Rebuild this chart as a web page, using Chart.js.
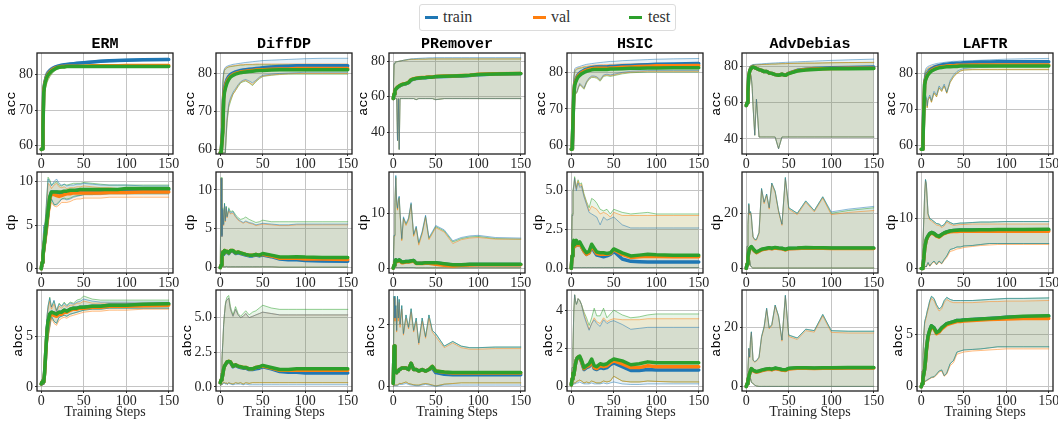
<!DOCTYPE html>
<html><head><meta charset="utf-8">
<script src="https://cdn.jsdelivr.net/npm/chart.js@4.4.1/dist/chart.umd.min.js"></script>
<style>
html,body{margin:0;padding:0;background:#fff;}
#fig{position:relative;width:1058px;height:421px;overflow:hidden;background:#fff;}
#fig canvas{position:absolute;}
#legend{position:absolute;left:419px;top:4px;width:255px;height:25px;border:1px solid #dcdcdc;border-radius:3px;font-family:"Liberation Serif",serif;font-size:16px;color:#333;}
.sw{position:absolute;top:11px;width:13px;height:3px;}
.lt{position:absolute;top:3px;line-height:18px;}
</style></head><body><div id="fig"><div id="legend"></div></div>
<script>
// ---------------- data ----------------
const SERIES = ['train', 'val', 'test'];
const METHODS = ['ERM', 'DiffDP', 'PRemover', 'HSIC', 'AdvDebias', 'LAFTR'];
const METRICS = ['acc', 'dp', 'abcc'];
const X_LABEL = 'Training Steps';
const X_TICKS = [0, 50, 100, 150];
const ACC_TICKS = [['60','70','80'], ['60','70','80'], ['40','60','80'], ['60','70','80'], ['40','60','80'], ['60','70','80']];
const DP_TICKS = [['0','5','10'], ['0','5','10'], ['0','10'], ['0.0','2.5','5.0'], ['0','20'], ['0','10']];
const ABCC_TICKS = [['0','5'], ['0.0','2.5','5.0'], ['0','2'], ['0','2','4'], ['0','20'], ['0','5']];

const STEPS = [0,1,2,3,4,5,6,7,8,10,12,15,18,21,24,27,30,34,38,42,46,50,60,70,80,90,100,120,150];

// ERM acc
const ERM_ACC_TR    = [59,59.2,66,76,77.5,78.5,79.3,79.9,80.3, 80.9,81.4,81.9,82.2,82.4,82.6,82.7,82.8,82.9,83.0, 83.1,83.2,83.3,83.5,83.7,83.8,83.9,84.0,84.1,84.2];
const ERM_ACC_TR_LO = [58.8,59,64,74.5,76,77.3,78.2,78.9,79.4, 80.2,80.8,81.4,81.8,82.1,82.3,82.4,82.5,82.6,82.7, 82.8,82.9,83.0,83.2,83.4,83.5,83.6,83.7,83.8,83.9];
const ERM_ACC_TR_HI = [59.2,59.6,68,77.5,79,80,80.6,81,81.3, 81.7,82,82.3,82.6,82.8,82.9,83.0,83.1,83.2,83.3, 83.4,83.5,83.6,83.8,84.0,84.1,84.2,84.3,84.4,84.5];
const ERM_ACC_VA    = [59,59.2,65.5,75.5,77.2,78.2,79,79.6,80, 80.6,81.1,81.6,81.9,82.1,82.2,82.2,82.3,82.3,82.3, 82.3,82.3,82.3,82.4,82.4,82.4,82.4,82.5,82.5,82.5];
const ERM_ACC_VA_LO = [58.8,59,63.5,74,75.5,76.5,77.5,78.3,78.8, 79.6,80.3,81,81.5,81.8,81.9,82,82.1,82.1,82.1, 82.1,82.1,82.1,82.2,82.2,82.2,82.2,82.3,82.3,82.3];
const ERM_ACC_VA_HI = [59.2,59.6,67.5,77,78.8,79.8,80.4,80.8,81.1, 81.5,81.8,82.1,82.3,82.4,82.5,82.5,82.5,82.5,82.5, 82.5,82.5,82.6,82.6,82.6,82.6,82.6,82.7,82.7,82.7];
const ERM_ACC_TE    = [59,59.1,65,75,77,78,78.8,79.4,79.8, 80.4,80.9,81.4,81.8,82,82.1,82.1,82.2,82.2,82.2, 82.2,82.2,82.2,82.2,82.2,82.2,82.2,82.2,82.2,82.2];
const ERM_ACC_TE_LO = [58.8,59,63,73.5,75,76,77,77.8,78.4, 79.3,80,80.8,81.3,81.6,81.8,81.9,82,82,82, 82,82,82,82,82,82,82,82,82,82];
const ERM_ACC_TE_HI = [59.2,59.5,67,76.5,78.6,79.6,80.2,80.6,80.9, 81.3,81.6,81.9,82.1,82.3,82.4,82.4,82.4,82.4,82.4, 82.4,82.4,82.4,82.4,82.4,82.4,82.4,82.4,82.4,82.4];

// DiffDP acc
const DIFF_ACC_TR    = [59,59,59,66,74,76,77,77.8,78.4, 79.2,79.7,80.1,80.4,80.6,80.8,80.9,81,81.1,81.2, 81.3,81.4,81.5,81.7,81.8,81.9,82,82,82,82];
const DIFF_ACC_VA    = [59,59,59,65,73.5,75.5,76.5,77.3,77.9, 78.7,79.2,79.7,80,80.2,80.4,80.5,80.6,80.7,80.8, 80.9,81,81,81.1,81.2,81.2,81.3,81.3,81.3,81.3];
const DIFF_ACC_TE    = [59,59,59,64.5,73,75,76,76.8,77.5, 78.4,79,79.5,79.8,80,80.2,80.3,80.4,80.5,80.6, 80.7,80.8,80.8,80.9,81,81,81,81,81,81];
const DIFF_ACC_TR_HI = [59,59.5,70,78,80.5,81.3,81.6,81.8,81.9, 82.1,82.2,82.4,82.5,82.6,82.7,82.8,82.9,83,83.1, 83.2,83.3,83.4,83.5,83.6,83.7,83.8,83.9,84,84];
const DIFF_ACC_VA_HI = [59,59.5,69,77,80,81,81.3,81.5,81.6, 81.8,81.9,82,82.1,82.2,82.3,82.3,82.4,82.4,82.4, 82.5,82.5,82.5,82.5,82.5,82.5,82.5,82.5,82.5,82.5];
const DIFF_ACC_TE_HI = [59,59.5,68,76.5,79.8,80.8,81.1,81.3,81.5, 81.7,81.8,81.9,82,82.1,82.2,82.2,82.3,82.3,82.3, 82.3,82.3,82.3,82.3,82.3,82.3,82.3,82.3,82.3,82.3];
const DIFF_ACC_TR_LO = [59,59,59,59,59,59,59,64,68, 72,73.5,75,76,77,77.8,78.2,78.4,78,77.5, 78.2,79,79.5,79.8,80,80.1,80.2,80.3,80.3,80.3];
const DIFF_ACC_VA_LO = [59,59,59,59,59,59,59,63.5,67.5, 71.5,73,74.5,75.5,76.8,77.6,78,78.2,77.6,77, 78,78.8,79.3,79.6,79.8,79.9,80,80,80,80];
const DIFF_ACC_TE_LO = [59,59,59,59,59,59,59,63,67, 71,72.5,74.5,75.5,76.5,77.5,77.8,78,77.5,76.8, 77.8,78.6,79.2,79.5,79.7,79.8,79.8,79.8,79.8,79.8];

// PRemover acc
const PREM_ACC_TR    = [59,61.4,63.4,64.2,64.7,65.2,65.6,65.9,66.2, 66.7,67,67.3,67.9,69.4,69.9,70.2,70.4,70.6,70.7, 70.9,70.9,71.2,71.4,71.5,71.7,71.9,72.4,72.7,72.9];
const PREM_ACC_VA    = [59,61.6,63.6,64.4,64.9,65.4,65.8,66.1,66.4, 66.9,67.2,67.5,68.1,69.6,70.1,70.4,70.6,70.8,70.9, 71.1,71.1,71.4,71.6,71.7,71.9,72.1,72.6,72.9,73.1];
const PREM_ACC_TE    = [59,61.5,63.5,64.3,64.8,65.3,65.7,66,66.3, 66.8,67.1,67.4,68,69.5,70,70.3,70.5,70.7,70.8, 71,71,71.3,71.5,71.6,71.8,72,72.5,72.8,73];
const PREM_ACC_HI    = [59,78.5,79.2,79.5,79.6,79.7,79.8,79.9,80, 80.2,80.4,80.6,80.8,81,81,81,81.1,81.1,81.1, 81.2,81.2,81.2,81.2,81.2,81.2,81.2,81.2,81.2,81.2];
const PREM_ACC_TR_HI = [59,78.5,79.2,79.5,79.6,79.7,79.8,79.9,80, 80.2,80.4,80.7,81,81.2,81.3,81.4,81.5,81.6,81.7, 81.8,81.8,81.9,81.9,81.9,81.9,81.9,81.9,81.9,81.9];
const PREM_ACC_LO    = [59,59,59,59,59,35.5,59,30.5,59, 59,59,59,59,59,59,58.4,59,59,59, 59,59,58.4,59,59,59,59,59,59,59];

// HSIC acc
const HSIC_ACC_TR    = [59,59,59,74,77,77.8,78.4,78.9,79.3, 79.8,80.2,80.6,80.9,81.1,81.3,81.4,81.5,81.5,81.5, 81.5,81.6,81.6,81.8,81.9,82,82.1,82.2,82.3,82.4];
const HSIC_ACC_VA    = [59,59,59,74,76.8,77.5,78.1,78.6,79, 79.5,79.9,80.3,80.6,80.8,81,81.1,81.1,81.1,81.1, 81.1,81.2,81.2,81.4,81.5,81.6,81.7,81.8,81.8,81.9];
const HSIC_ACC_TE    = [59,59,59,73.5,76.5,77.2,77.8,78.3,78.7, 79.2,79.6,80,80.3,80.5,80.7,80.8,80.8,80.8,80.8, 80.8,80.9,80.9,81,81.1,81.1,81.2,81.2,81.3,81.3];
const HSIC_ACC_TR_HI = [59,59,62,79,81,81.2,81.3,81.4,81.5, 81.6,81.8,82,82.2,82.3,82.4,82.5,82.6,82.7,82.8, 82.9,83,83,83.2,83.3,83.4,83.5,83.6,83.7,83.8];
const HSIC_ACC_VA_HI = [59,59,61.5,78.5,80.5,80.8,81,81.1,81.2, 81.3,81.4,81.6,81.7,81.8,81.9,82,82,82.1,82.1, 82.1,82.2,82.2,82.3,82.3,82.4,82.4,82.4,82.4,82.4];
const HSIC_ACC_TE_HI = [59,59,61,78,80,80.5,80.7,80.9,81, 81.1,81.2,81.4,81.5,81.6,81.7,81.7,81.8,81.8,81.8, 81.8,81.9,81.9,82,82,82,82,82,82,82];
const HSIC_ACC_TR_LO = [59,59,59,59,74,74.3,74.5,75,75.8, 77,76.5,75.8,77.5,78.5,79,79,78.8,78,79.3, 79.5,79.3,79.5,80,80.3,80.4,80.5,80.5,80.5,80.5];
const HSIC_ACC_VA_LO = [59,59,59,59,74,74.2,74.4,74.8,75.6, 76.8,76.3,75.6,77.3,78.3,78.8,78.8,78.6,77.8,79.1, 79.3,79.1,79.3,79.8,80.1,80.2,80.3,80.3,80.3,80.3];
const HSIC_ACC_TE_LO = [59,59,59,59,73.8,74,74.2,74.6,75.4, 76.6,76.1,75.4,77.1,78.1,78.6,78.6,78.4,77.6,78.9, 79.1,78.9,79.1,79.6,79.9,80,80.1,80.1,80.1,80.1];

// AdvDebias acc
const ADV_ACC_TR    = [58.5,60,66,75,77.5,78.5,79.2,79.6,79.8, 79.5,79,78.4,78,77.3,77.4,76.5,76.3,75.6,75.3, 75.8,75.2,76.4,78,78.6,79,79.2,79.4,79.6,79.8];
const ADV_ACC_VA    = [58.5,60,66,75,77.5,78.5,79.2,79.6,79.8, 79.5,79,78.4,78,77.3,77.4,76.5,76.3,75.6,75.3, 75.8,75.2,76.3,77.8,78.4,78.7,78.9,79,79.1,79.2];
const ADV_ACC_TE    = [58.5,60,66,75,77.5,78.5,79.2,79.6,79.8, 79.5,79,78.4,78,77.3,77.4,76.5,76.3,75.6,75.3, 75.8,75.2,76.2,77.6,78.2,78.5,78.7,78.8,78.9,79];
const ADV_ACC_TR_HI = [59,62,72,78,80,80.5,80.8,81,81.2, 81.3,81.4,81.5,81.6,81.7,81.8,81.9,82,82.1,82.2, 82.3,82.4,82.5,82.7,82.9,83.1,83.3,83.5,83.8,84.2];
const ADV_ACC_HI    = [59,62,72,78,80,80.4,80.6,80.8,81, 81,81,81.1,81.2,81.3,81.3,81.4,81.5,81.5,81.6, 81.7,81.7,81.8,81.9,82,82,82.1,82.2,82.3,82.4];
const ADV_ACC_LO    = [58,58.5,62,68,73,76,74,68,58, 42,62,41,41,41,41,41,41,41,34.5, 41,41,41,41,41,41,41,41,41,41];

// LAFTR acc
const LAF_ACC_TR    = [59,59,62,70,77.5,78.5,79.2,79.8,80.2, 80.8,81.2,81.6,81.9,82.1,82.3,82.4,82.5,82.6,82.7, 82.8,82.8,82.9,83,83.1,83.1,83.2,83.2,83.2,83.2];
const LAF_ACC_VA    = [59,59,61.5,69.5,77,78.2,78.9,79.4,79.8, 80.4,80.8,81.2,81.5,81.7,81.8,81.9,82,82.1,82.1, 82.2,82.2,82.2,82.3,82.3,82.3,82.3,82.3,82.3,82.3];
const LAF_ACC_TE    = [59,59,61,69,76.8,78,78.7,79.2,79.6, 80.2,80.6,81,81.3,81.5,81.6,81.7,81.8,81.8,81.9, 81.9,82,82,82,82,82,82,82,82,82];
const LAF_ACC_TR_HI = [59,59.5,68,77,80,81,81.5,81.7,81.9, 82.1,82.3,82.5,82.7,82.8,82.9,83,83.1,83.2,83.3, 83.3,83.4,83.4,83.5,83.6,83.7,83.8,83.9,84,84.1];
const LAF_ACC_VA_HI = [59,59.5,67,76,79.5,80.6,81,81.3,81.5, 81.7,81.9,82.1,82.3,82.4,82.5,82.6,82.6,82.7,82.7, 82.8,82.8,82.8,82.9,82.9,82.9,83,83,83,83];
const LAF_ACC_TE_HI = [59,59.5,66.5,75.5,79.2,80.3,80.7,81,81.2, 81.4,81.6,81.8,82,82.1,82.2,82.3,82.3,82.4,82.4, 82.4,82.5,82.5,82.5,82.5,82.5,82.5,82.5,82.5,82.5];
const LAF_ACC_TR_LO = [59,59,59,59,71,74,73.5,71,73, 74,72.5,75,74,76.5,75.5,77,74.8,78,79.5, 80.5,81,81.3,81.5,81.6,81.7,81.8,81.8,81.8,81.8];
const LAF_ACC_LO    = [59,59,59,59,70.5,73.5,73,70.5,72.5, 73.5,72,74.5,73.5,76,75,76.5,74.5,77.5,79, 80,80.6,80.9,81,81,81,81,81,81,81];

// ERM dp
const ERM_DP_TR    = [0,0.7,1.5,2.4,3.2,4.1,5,5.8,6.6, 8.2,8.8,8.8,8.8,8.7,8.7,8.8,8.8,8.9,8.9, 9,9,9,9,9,9,9,9.1,9.1,9.1];
const ERM_DP_VA    = [0,0.7,1.4,2.3,3.1,3.9,4.8,5.6,6.4, 8,8.6,8.5,8.4,8.3,8.4,8.5,8.6,8.6,8.7, 8.7,8.7,8.7,8.7,8.7,8.75,8.75,8.75,8.8,8.8];
const ERM_DP_TE    = [0,0.7,1.5,2.4,3.2,4.1,5,5.8,6.6, 8.2,8.8,8.8,8.8,8.8,8.8,8.9,8.9,9,9, 9,9.1,9.1,9.1,9.1,9.1,9.1,9.2,9.2,9.2];
const ERM_DP_TR_HI = [0,1.5,3,5,4.6,5.8,7.2,8.8,10.3, 10,9.5,10,10.3,9.8,9.6,9.7,9.5,9.6,9.6, 9.7,9.7,9.8,9.7,9.6,9.6,9.6,9.6,9.5,9.5];
const ERM_DP_VA_HI = [0,1.3,2.6,4,4.2,5.5,6.8,8.3,9.8, 9.6,9.2,9.6,9.8,9.4,9.3,9.4,9.2,9.3,9.3, 9.4,9.4,9.5,9.4,9.3,9.3,9.2,9.2,9.2,9.2];
const ERM_DP_TE_HI = [0,1.5,3,4.8,4.6,6,7.5,9,10.5, 10.2,9.6,9.8,10,9.6,9.5,9.7,9.6,9.7,9.8, 9.8,9.8,9.9,9.8,9.7,9.6,9.6,9.6,9.6,9.6];
const ERM_DP_TR_LO = [0,0.2,0.8,1.4,2,2.8,3.5,4.3,5, 7,8,7.4,7.3,7.6,8,8,7.9,8,8.2, 8.3,8.4,8.5,8.5,8.5,8.6,8.6,8.6,8.6,8.6];
const ERM_DP_VA_LO = [0,0.2,0.7,1.2,1.8,2.5,3.2,4,4.7, 6.6,7.6,7.2,7.1,7.3,7.6,7.6,7.6,7.7,7.9, 8,8,8.1,8.1,8.1,8.2,8.2,8.2,8.2,8.2];
const ERM_DP_TE_LO = [0,0.2,0.8,1.4,2,2.8,3.5,4.3,5, 7,8,7.3,7.4,7.7,8,8.1,8,8.1,8.3, 8.4,8.4,8.5,8.5,8.6,8.6,8.6,8.6,8.6,8.6];

// DiffDP dp
const DIFF_DP_TR    = [0,0.3,1.4,1.9,1.7,2.1,1.9,2,2, 1.8,2.1,2.1,1.8,1.9,1.8,1.7,1.6,1.5,1.5, 1.6,1.5,1.6,1.4,1.1,1,1,0.9,0.85,0.8];
const DIFF_DP_VA    = [0,0.3,1.5,2,1.8,2.2,2,2.1,2.1, 1.9,2.2,2.2,1.9,2,1.9,1.8,1.7,1.6,1.6, 1.7,1.6,1.7,1.5,1.2,1.2,1.2,1.1,1.1,1.05];
const DIFF_DP_TE    = [0,0.3,1.5,2,1.8,2.2,2,2.1,2.1, 1.9,2.2,2.2,1.9,2,1.9,1.8,1.7,1.6,1.6, 1.7,1.6,1.8,1.6,1.35,1.35,1.4,1.35,1.3,1.3];
const DIFF_DP_TR_HI = [0,11.5,4,7.5,5.5,8.2,6,7.8,6.5, 7.5,7,7.2,6.6,6.2,6,5.8,6,5.8,5.7, 5.5,5.6,5.7,5.6,5.5,5.5,5.6,5.6,5.6,5.6];
const DIFF_DP_VA_HI = [0,11.5,4,7.4,5.4,8,5.9,7.6,6.4, 7.3,6.9,7,6.5,6.1,5.9,5.7,5.9,5.7,5.6, 5.4,5.5,5.6,5.5,5.4,5.4,5.5,5.5,5.5,5.5];
const DIFF_DP_TE_HI = [0,11.6,4.2,7.7,5.6,8.3,6.2,7.9,6.6, 7.7,7.2,7.3,6.8,6.4,6.2,6.3,6.5,6.2,6, 5.8,5.9,6.1,5.9,5.9,5.9,5.9,5.9,5.9,5.9];
const DIFF_DP_LO    = [0,0.1,0.1,0.15,0.1,0.1,0.1,0.15,0.1, 0.1,0.1,0.1,0.1,0.1,0.1,0.1,0.1,0.1,0.1, 0.1,0.1,0.1,0.1,0.05,0.05,0.05,0.05,0.05,0.05];

// PRemover dp
const PREM_DP_TR    = [0,0.5,1.2,1.5,1.4,1.3,1.4,1.5,1.4, 1.1,1.1,1.2,1.2,1.3,1.4,0.9,0.9,0.9,1, 1,1,1,0.75,0.55,0.55,0.65,0.65,0.65,0.65];
const PREM_DP_VA    = [0,0.5,1.1,1.4,1.3,1.2,1.3,1.4,1.3, 1,1,1.1,1.1,1.2,1.3,0.85,0.85,0.85,0.9, 0.9,0.8,0.7,0.5,0.4,0.5,0.55,0.6,0.6,0.6];
const PREM_DP_TE    = [0,0.5,1.2,1.5,1.4,1.3,1.4,1.5,1.4, 1.1,1.1,1.2,1.2,1.3,1.4,0.9,0.9,0.9,1, 1,1,1,0.8,0.6,0.6,0.7,0.7,0.7,0.7];
const PREM_DP_HI    = [0,6,12,16.8,12,10.8,12.5,13,10, 5.2,9.2,8,9,11.8,6,7.5,4.5,6.5,9.5, 5.4,6.5,7.6,6.8,4.8,5.4,5.7,5.8,5.4,5.3];
const PREM_DP_TR_HI = [0,6,12,17,12.2,11,12.7,13.2,10.2, 5.4,9.4,8.2,9.2,12,6.2,7.7,4.7,6.7,9.7, 5.6,6.7,7.8,7,5,5.6,5.9,6,5.6,5.5];
const PREM_DP_VA_HI = [0,5.8,11.8,16.5,11.8,10.6,12.3,12.8,9.8, 5,9,7.8,8.8,11.6,5.8,7.3,4.2,6.2,9.3, 5.2,6.3,7.4,6.6,4.5,5.2,5.5,5.6,5.3,5.3];
const PREM_DP_LO    = [0,0.05,0.1,0.1,0.1,0.1,0.1,0.1,0.1, 0.1,0.1,0.1,0.1,0.1,0.1,0.05,0.05,0.05,0.05, 0.05,0.05,0.05,0.05,0.05,0.05,0.05,0.05,0.05,0.05];

// HSIC dp
const HSIC_DP_TR    = [0,0.8,1.4,1.7,1.4,1.5,1.7,1.6,1.5, 1.6,1.4,1.1,0.9,1,1.4,1.1,0.85,0.8,0.75, 0.8,0.9,1.1,0.6,0.45,0.42,0.4,0.4,0.4,0.4];
const HSIC_DP_VA    = [0,0.8,1.4,1.7,1.4,1.5,1.7,1.6,1.5, 1.6,1.4,1.1,0.9,1,1.45,1.2,0.95,0.9,0.9, 0.9,0.95,1.2,0.9,0.7,0.75,0.78,0.76,0.75,0.75];
const HSIC_DP_TE    = [0,0.8,1.5,1.8,1.5,1.6,1.8,1.7,1.6, 1.7,1.5,1.2,1,1.1,1.55,1.3,1.05,1,1, 0.95,1,1.25,1,0.8,0.85,0.9,0.87,0.85,0.85];
const HSIC_DP_TR_HI = [0,3.4,4.9,5.3,5.8,5.3,5,5.3,5.5, 5.2,5.3,4.6,4.1,3.6,3.5,3.4,3.3,2.8,3.3, 3.1,3.2,3.3,2.8,2.6,2.6,2.6,2.6,2.6,2.6];
const HSIC_DP_VA_HI = [0,3.4,4.9,5.3,5.8,5.4,5.1,5.4,5.6, 5.3,5.4,4.7,4.2,3.7,4,3.9,3.8,3.5,3.6, 3.5,3.3,3.6,3.4,3.4,3.4,3.4,3.4,3.4,3.4];
const HSIC_DP_TE_HI = [0,3.5,5,5.4,5.9,5.5,5.2,5.5,5.7, 5.4,5.5,4.8,4.3,3.9,4.5,4.4,4.2,3.8,3.7, 3.8,3.5,3.8,3.6,3.5,3.55,3.6,3.5,3.5,3.5];
const HSIC_DP_LO    = [0,0.05,0.05,0.05,0.05,0.05,0.05,0.05,0.05, 0.05,0.05,0.05,0.05,0.05,0.05,0.05,0.05,0.05,0.05, 0.05,0.05,0.05,0.05,0.05,0.05,0.05,0.05,0.05,0.05];

// AdvDebias dp
const ADV_DP_TR    = [0,1.5,4,6,7.2,7.5,7.8,7.4,7, 6.3,5.8,6.3,6.8,7,7.2,7.4,7.2,7.5,7.3, 7.2,6.8,7.2,7.3,7.5,7.4,7.4,7.3,7.3,7.3];
const ADV_DP_VA    = [0,1.5,3.9,5.9,7.1,7.4,7.7,7.3,6.9, 6.2,5.7,6.2,6.7,6.9,7.1,7.3,7.1,7.4,7.2, 7.1,6.7,7.1,7.2,7.4,7.3,7.3,7.2,7.2,7.2];
const ADV_DP_TE    = [0,1.5,4,6,7.3,7.6,7.9,7.5,7.1, 6.4,5.9,6.4,6.9,7.1,7.3,7.5,7.3,7.6,7.4, 7.3,6.9,7.3,7.4,7.6,7.5,7.5,7.4,7.4,7.4];
const ADV_DP_HI    = [0,8,16,23.5,20,20.6,19,15,11.5, 10.5,10.5,13,29,24,27,22,31,28,21, 16,33,22,20,24.5,21,26,20,21,22];
const ADV_DP_TR_HI = [0,8,16,23.5,20,20.6,19,15,11.5, 10.5,10.5,13,29,24,27,22,31,28,21, 16,33,22,20,24.5,21,26,20.5,21.5,22.5];
const ADV_DP_VA_HI = [0,8,16,23,19.5,20.2,18.6,14.6,11.2, 10.2,10.2,12.6,28.5,23.5,26.5,21.5,30.5,27.5,20.5, 15.6,32.5,21.5,19.5,24,20.5,25.5,19.5,20.3,21];
const ADV_DP_LO    = [0,0.5,1,2.4,3,1,0.5,0.2,0.1, 0.1,0.1,0.1,0.1,0.1,0.1,0.1,0.1,0.1,0.1, 0.1,0.1,0.1,0.1,0.1,0.1,0.1,0.1,0.1,0.1];

// LAFTR dp
const LAF_DP_TR    = [0,0,0.5,2,4,5,5.8,6.2,6.5, 7,7.2,7,6.6,6.4,6.8,7.1,7.3,7.5,7.6, 7.65,7.7,7.7,7.7,7.7,7.7,7.7,7.7,7.7,7.7];
const LAF_DP_VA    = [0,0,0.5,1.9,3.9,4.9,5.7,6.1,6.4, 6.9,7.1,6.9,6.5,6.3,6.7,7,7.2,7.35,7.4, 7.4,7.45,7.45,7.45,7.45,7.45,7.45,7.45,7.45,7.45];
const LAF_DP_TE    = [0,0,0.5,2,4,5,5.8,6.2,6.5, 7,7.2,7,6.6,6.4,6.8,7.1,7.3,7.5,7.6, 7.65,7.7,7.7,7.7,7.75,7.75,7.8,7.8,7.8,7.85];
const LAF_DP_HI    = [0,1,5,10,15,17.8,17,14,11, 10,9.8,9.4,9,8.9,8.5,8.8,9.6,9.2,8.9, 9,9.1,9.1,9.2,9.3,9.3,9.35,9.4,9.4,9.4];
const LAF_DP_VA_HI = [0,1,5,9.8,14.8,17.5,16.7,13.7,10.7, 9.7,9.5,9.1,8.7,8.6,8.2,8.5,9.3,8.9,8.6, 8.7,8.8,8.8,8.9,8.9,8.9,8.9,8.9,8.9,8.9];
const LAF_DP_LO    = [0,0,0,0,0.2,0.5,0.3,0.8,1.2, 0.5,1,1.5,0.8,1.5,1,1.8,2.5,3.8,4, 4.3,4.3,4.5,4.6,4.8,5,5,5,5,5];
const LAF_DP_VA_LO = [0,0,0,0,0.2,0.4,0.3,0.7,1, 0.4,0.9,1.3,0.7,1.3,0.9,1.6,2.2,3.4,3.6, 3.9,4,4.2,4.4,4.6,4.7,4.8,4.8,4.8,4.8];

// ERM abcc
const ERM_AB_TR    = [0.3,0.5,0.6,0.5,1.5,3,4.5,5.8,6.5, 7.2,7.4,7.3,7.2,7.4,7.4,7.6,7.5,7.7,7.8, 7.8,7.9,7.9,8,8,8.1,8.1,8.1,8.15,8.2];
const ERM_AB_VA    = [0.3,0.5,0.6,0.5,1.4,2.9,4.4,5.6,6.3, 7,7.2,7.1,7,7.2,7.2,7.4,7.4,7.6,7.7, 7.7,7.8,7.8,7.9,7.9,8,8,8,8.05,8.1];
const ERM_AB_TE    = [0.3,0.5,0.6,0.5,1.5,3,4.5,5.8,6.5, 7.2,7.4,7.3,7.2,7.4,7.4,7.6,7.5,7.7,7.8, 7.8,7.9,7.9,8,8,8.1,8.1,8.1,8.2,8.25];
const ERM_AB_TR_HI = [0.3,0.8,0.9,0.8,2.2,4,5.8,7.2,8, 8.8,7.9,8.6,7.5,8.2,8,8.3,8,8.3,8.2, 8.4,8.5,8.7,8.5,8.4,8.4,8.4,8.4,8.4,8.4];
const ERM_AB_VA_HI = [0.3,0.7,0.8,0.7,2,3.8,5.5,7,7.7, 8.5,7.7,8.2,7.4,8,7.8,8.1,7.9,8.1,8.1, 8.3,8.3,8.5,8.3,8.3,8.3,8.3,8.3,8.3,8.3];
const ERM_AB_TE_HI = [0.3,0.8,0.9,0.8,2.2,4,5.8,7.2,8, 8.9,7.9,8.5,7.6,8.3,8,8.4,8.1,8.4,8.3, 8.6,8.7,9,8.7,8.6,8.6,8.6,8.6,8.6,8.6];
const ERM_AB_LO    = [0.1,0.2,0.3,0.2,0.8,2,3.2,4.2,5, 6,7,6.5,6.3,6.9,7,7.1,7,7.2,7.3, 7.4,7.5,7.6,7.7,7.7,7.8,7.8,7.8,7.8,7.8];
const ERM_AB_VA_LO = [0.1,0.2,0.3,0.2,0.7,1.8,3,4,4.8, 5.8,6.8,6.3,6.1,6.6,6.8,6.9,6.8,7,7.1, 7.2,7.3,7.4,7.5,7.5,7.6,7.6,7.6,7.7,7.7];

// DiffDP abcc
const DIFF_AB_TR    = [0.3,0.5,0.6,0.9,1.3,1.5,1.6,1.7,1.8, 1.8,1.75,1.45,1.55,1.45,1.4,1.35,1.35,1.25,1.25, 1.3,1.35,1.45,1.3,1.1,1.05,1.05,1,1,1];
const DIFF_AB_VA    = [0.3,0.5,0.6,0.9,1.3,1.5,1.6,1.7,1.8, 1.85,1.8,1.5,1.6,1.5,1.45,1.4,1.4,1.3,1.3, 1.4,1.45,1.5,1.35,1.2,1.2,1.2,1.2,1.2,1.2];
const DIFF_AB_TE    = [0.3,0.5,0.6,0.9,1.3,1.5,1.6,1.7,1.8, 1.85,1.8,1.5,1.6,1.5,1.45,1.4,1.4,1.3,1.3, 1.4,1.45,1.55,1.4,1.25,1.25,1.3,1.3,1.3,1.3];
const DIFF_AB_HI    = [0.3,1,2,3.2,4.5,5.3,5.9,6.2,6.3, 6.4,5.6,5.1,5.6,5.2,5,5.1,5.3,5,5.1, 5.2,5.3,5.4,5.3,5.2,5.2,5.2,5.2,5.2,5.2];
const DIFF_AB_TE_HI = [0.3,1,2,3.2,4.5,5.3,6,6.3,6.5, 6.6,5.8,5.2,5.8,5.3,5.1,5.3,5.5,5.2,5.4, 5.5,5.7,5.9,5.7,5.6,5.6,5.6,5.6,5.6,5.6];
const DIFF_AB_LO    = [0.1,0.15,0.2,0.25,0.3,0.3,0.25,0.3,0.2, 0.3,0.25,0.2,0.3,0.25,0.3,0.2,0.3,0.25,0.3, 0.3,0.3,0.3,0.3,0.3,0.3,0.3,0.3,0.3,0.3];
const DIFF_AB_TR_LO = [0.1,0.15,0.2,0.2,0.25,0.25,0.2,0.25,0.15, 0.25,0.2,0.15,0.2,0.2,0.2,0.15,0.2,0.15,0.15, 0.15,0.15,0.15,0.15,0.15,0.15,0.15,0.15,0.15,0.15];

// PRemover abcc
const PREM_AB_TR    = [0.1,1.3,0.5,0.5,0.45,0.5,0.5,0.55,0.55, 0.6,0.6,0.6,0.55,0.75,0.55,0.55,0.5,0.55,0.5, 0.55,0.6,0.45,0.4,0.38,0.38,0.38,0.38,0.38,0.38];
const PREM_AB_VA    = [0.1,1.3,0.5,0.5,0.45,0.5,0.5,0.55,0.55, 0.6,0.6,0.6,0.55,0.75,0.55,0.55,0.5,0.55,0.5, 0.55,0.65,0.5,0.46,0.44,0.44,0.44,0.44,0.44,0.44];
const PREM_AB_TE    = [0.1,1.3,0.5,0.5,0.45,0.5,0.5,0.55,0.55, 0.6,0.6,0.6,0.55,0.75,0.55,0.55,0.5,0.55,0.5, 0.55,0.65,0.5,0.47,0.45,0.45,0.45,0.45,0.45,0.45];
const PREM_AB_HI    = [0.3,2.9,2.2,2.6,1.8,2.9,2.2,2.8,2, 2.6,1.7,2.3,1.9,2.5,1.8,2.2,1.4,2.2,1.6, 2.3,1.8,1.7,1.3,1.45,1.3,1.25,1.25,1.27,1.27];
const PREM_AB_VA_HI = [0.3,2.85,2.1,2.5,1.75,2.8,2.1,2.7,1.9, 2.5,1.65,2.2,1.85,2.4,1.75,2.1,1.35,2.1,1.55, 2.2,1.75,1.6,1.25,1.4,1.25,1.2,1.2,1.22,1.22];
const PREM_AB_LO    = [0,0.05,0.05,0.05,0.05,0.05,0.08,0.1,0.1, 0.1,0.12,0.15,0.1,0.08,0.06,0.05,0.05,0.08,0.1, 0.08,0.05,0.02,0.08,0.1,0.12,0.12,0.12,0.12,0.12];
const PREM_AB_TR_LO = [0,0.03,0.03,0.03,0.03,0.03,0.05,0.07,0.07, 0.07,0.08,0.1,0.07,0.05,0.04,0.03,0.03,0.05,0.07, 0.05,0.03,0.01,0.05,0.05,0.05,0.05,0.05,0.05,0.05];

// HSIC abcc
const HSIC_AB_TR    = [0.1,0.4,0.7,0.6,0.9,1.2,1.4,1.5,1.5, 1.5,1.3,0.9,1,1.05,1.3,0.95,0.9,1,0.95, 1,1.15,1.25,1.05,0.85,0.85,0.9,0.88,0.87,0.87];
const HSIC_AB_VA    = [0.1,0.4,0.7,0.6,0.9,1.2,1.4,1.5,1.55, 1.55,1.35,0.95,1.05,1.1,1.35,1,0.95,1.1,1.05, 1.1,1.25,1.35,1.2,1,1,1.1,1.05,1.05,1.05];
const HSIC_AB_TE    = [0.1,0.4,0.7,0.6,0.9,1.2,1.4,1.5,1.55, 1.6,1.4,1,1.1,1.2,1.45,1.1,1.05,1.2,1.15, 1.2,1.35,1.45,1.35,1.15,1.2,1.3,1.25,1.25,1.25];
const HSIC_AB_TR_HI = [0.2,1,2,4,4.8,4.5,4.3,4.4,4.6, 4.5,4.3,3.7,3.3,2.95,3.3,3.5,3.3,3.15,3.5, 3.3,3.4,3.45,3.25,3,3.05,3.1,3.1,3.1,3.1];
const HSIC_AB_VA_HI = [0.2,1,2,4,4.8,4.5,4.3,4.4,4.6, 4.5,4.3,3.8,3.4,3,3.3,3.6,3.4,3.3,3.6, 3.4,3.5,3.55,3.5,3.5,3.5,3.55,3.55,3.55,3.55];
const HSIC_AB_TE_HI = [0.2,1,2,4,4.8,4.5,4.3,4.4,4.6, 4.5,4.3,3.9,3.6,3.2,3.6,4.1,3.7,3.7,4.1, 3.6,3.8,4,3.75,3.6,3.65,3.75,3.8,3.8,3.8];
const HSIC_AB_LO    = [0,0.1,0.15,0.2,0.2,0.2,0.25,0.3,0.3, 0.35,0.3,0.2,0.25,0.2,0.3,0.25,0.2,0.2,0.3, 0.25,0.3,0.55,0.3,0.25,0.25,0.3,0.28,0.25,0.25];
const HSIC_AB_TR_LO = [0,0.08,0.1,0.15,0.15,0.15,0.2,0.2,0.2, 0.25,0.2,0.15,0.15,0.15,0.2,0.15,0.15,0.15,0.2, 0.15,0.2,0.25,0.15,0.12,0.12,0.15,0.15,0.15,0.15];

// AdvDebias abcc
const ADV_AB_TR    = [0,1,2,3.3,4.5,5.3,6,5.8,5.5, 5.2,5,5.2,5.5,5.7,5.9,6,5.8,6.2,6, 5.7,5.6,6.1,6.3,6.3,6.2,6.3,6.3,6.4,6.4];
const ADV_AB_VA    = [0,1,2,3.2,4.4,5.2,5.9,5.7,5.4, 5.1,4.9,5.1,5.4,5.6,5.8,5.9,5.7,6.1,5.9, 5.6,5.5,6,6.2,6.2,6.1,6.2,6.2,6.3,6.3];
const ADV_AB_TE    = [0,1,2,3.3,4.5,5.3,6.1,5.9,5.6, 5.3,5.1,5.3,5.6,5.8,6,6.1,5.9,6.3,6.1, 5.8,5.7,6.2,6.4,6.4,6.3,6.4,6.4,6.5,6.5];
const ADV_AB_HI    = [0,3,6,13,10,16,18.6,14,9, 8.5,8.8,10,17,20.3,26.6,20,21,27.7,24, 15.8,31,17.5,16.5,19.5,19,24.5,19,18.8,18.8];
const ADV_AB_VA_HI = [0,3,6,12.8,9.8,15.7,18.3,13.7,8.8, 8.3,8.6,9.7,16.6,19.9,26.2,19.6,20.6,27.3,23.6, 15.4,30.6,17,16,19,18.5,24,18.4,18.2,18.2];
const ADV_AB_LO    = [0,0.5,1,1.5,2,2.8,1.5,1.2,1, 0.5,0.2,0.05,0.05,0.05,0.05,0.05,0.05,0.05,0.05, 0.05,0.05,0.05,0.05,0.05,0.05,0.05,0.05,0.05,0.05];

// LAFTR abcc
const LAF_AB_TR    = [0,0.3,0.8,1.2,1.7,2.5,3.5,4.2,4.8, 5.4,5.8,5.6,5.15,5.3,5.6,5.8,6,6.1,6.2, 6.3,6.3,6.35,6.4,6.45,6.5,6.55,6.6,6.65,6.7];
const LAF_AB_VA    = [0,0.3,0.8,1.2,1.7,2.4,3.4,4.1,4.7, 5.3,5.7,5.5,5.05,5.2,5.5,5.7,5.9,6,6.1, 6.2,6.2,6.25,6.3,6.35,6.4,6.42,6.45,6.48,6.5];
const LAF_AB_TE    = [0,0.3,0.8,1.2,1.7,2.5,3.5,4.2,4.8, 5.4,5.8,5.6,5.15,5.3,5.6,5.8,6,6.1,6.2, 6.3,6.3,6.35,6.4,6.45,6.5,6.55,6.6,6.7,6.75];
const LAF_AB_HI    = [0.2,1.5,3,5,6.2,6.5,6.8,7.2,7.5, 8.2,8.6,8.4,7.8,7.4,7.6,8.2,8.5,8.3,8.2, 8.2,8.2,8.2,8.2,8.25,8.3,8.35,8.4,8.4,8.45];
const LAF_AB_VA_HI = [0.2,1.5,3,4.9,6,6.3,6.6,7,7.3, 8,8.4,8.2,7.6,7.2,7.4,8,8.3,8.1,8, 8,8,8,8,8.05,8.1,8.1,8.15,8.15,8.2];
const LAF_AB_LO    = [0,0.1,0.3,0.4,0.5,0.55,0.6,0.65,0.7, 0.8,0.9,0.95,1.2,1.5,1.6,1.05,1.3,2.2,2.5, 3.3,3.4,3.5,3.55,3.6,3.7,3.8,3.8,3.8,3.8];
const LAF_AB_VA_LO = [0,0.1,0.3,0.35,0.45,0.5,0.55,0.6,0.65, 0.75,0.85,0.9,1.1,1.4,1.5,1,1.2,2,2.3, 3.1,3.2,3.3,3.4,3.45,3.5,3.55,3.6,3.6,3.6];

// table: [row][method] -> [trainMean, trainLo, trainHi, valMean, valLo, valHi, testMean, testLo, testHi]
const PANELS = [
  [
    [ERM_ACC_TR, ERM_ACC_TR_LO, ERM_ACC_TR_HI, ERM_ACC_VA, ERM_ACC_VA_LO, ERM_ACC_VA_HI, ERM_ACC_TE, ERM_ACC_TE_LO, ERM_ACC_TE_HI],
    [DIFF_ACC_TR, DIFF_ACC_TR_LO, DIFF_ACC_TR_HI, DIFF_ACC_VA, DIFF_ACC_VA_LO, DIFF_ACC_VA_HI, DIFF_ACC_TE, DIFF_ACC_TE_LO, DIFF_ACC_TE_HI],
    [PREM_ACC_TR, PREM_ACC_LO, PREM_ACC_TR_HI, PREM_ACC_VA, PREM_ACC_LO, PREM_ACC_HI, PREM_ACC_TE, PREM_ACC_LO, PREM_ACC_HI],
    [HSIC_ACC_TR, HSIC_ACC_TR_LO, HSIC_ACC_TR_HI, HSIC_ACC_VA, HSIC_ACC_VA_LO, HSIC_ACC_VA_HI, HSIC_ACC_TE, HSIC_ACC_TE_LO, HSIC_ACC_TE_HI],
    [ADV_ACC_TR, ADV_ACC_LO, ADV_ACC_TR_HI, ADV_ACC_VA, ADV_ACC_LO, ADV_ACC_HI, ADV_ACC_TE, ADV_ACC_LO, ADV_ACC_HI],
    [LAF_ACC_TR, LAF_ACC_TR_LO, LAF_ACC_TR_HI, LAF_ACC_VA, LAF_ACC_LO, LAF_ACC_VA_HI, LAF_ACC_TE, LAF_ACC_LO, LAF_ACC_TE_HI]
  ],
  [
    [ERM_DP_TR, ERM_DP_TR_LO, ERM_DP_TR_HI, ERM_DP_VA, ERM_DP_VA_LO, ERM_DP_VA_HI, ERM_DP_TE, ERM_DP_TE_LO, ERM_DP_TE_HI],
    [DIFF_DP_TR, DIFF_DP_LO, DIFF_DP_TR_HI, DIFF_DP_VA, DIFF_DP_LO, DIFF_DP_VA_HI, DIFF_DP_TE, DIFF_DP_LO, DIFF_DP_TE_HI],
    [PREM_DP_TR, PREM_DP_LO, PREM_DP_TR_HI, PREM_DP_VA, PREM_DP_LO, PREM_DP_VA_HI, PREM_DP_TE, PREM_DP_LO, PREM_DP_HI],
    [HSIC_DP_TR, HSIC_DP_LO, HSIC_DP_TR_HI, HSIC_DP_VA, HSIC_DP_LO, HSIC_DP_VA_HI, HSIC_DP_TE, HSIC_DP_LO, HSIC_DP_TE_HI],
    [ADV_DP_TR, ADV_DP_LO, ADV_DP_TR_HI, ADV_DP_VA, ADV_DP_LO, ADV_DP_VA_HI, ADV_DP_TE, ADV_DP_LO, ADV_DP_HI],
    [LAF_DP_TR, LAF_DP_LO, LAF_DP_HI, LAF_DP_VA, LAF_DP_VA_LO, LAF_DP_VA_HI, LAF_DP_TE, LAF_DP_LO, LAF_DP_HI]
  ],
  [
    [ERM_AB_TR, ERM_AB_LO, ERM_AB_TR_HI, ERM_AB_VA, ERM_AB_VA_LO, ERM_AB_VA_HI, ERM_AB_TE, ERM_AB_LO, ERM_AB_TE_HI],
    [DIFF_AB_TR, DIFF_AB_TR_LO, DIFF_AB_HI, DIFF_AB_VA, DIFF_AB_LO, DIFF_AB_HI, DIFF_AB_TE, DIFF_AB_LO, DIFF_AB_TE_HI],
    [PREM_AB_TR, PREM_AB_TR_LO, PREM_AB_HI, PREM_AB_VA, PREM_AB_LO, PREM_AB_VA_HI, PREM_AB_TE, PREM_AB_LO, PREM_AB_HI],
    [HSIC_AB_TR, HSIC_AB_TR_LO, HSIC_AB_TR_HI, HSIC_AB_VA, HSIC_AB_LO, HSIC_AB_VA_HI, HSIC_AB_TE, HSIC_AB_LO, HSIC_AB_TE_HI],
    [ADV_AB_TR, ADV_AB_LO, ADV_AB_HI, ADV_AB_VA, ADV_AB_LO, ADV_AB_VA_HI, ADV_AB_TE, ADV_AB_LO, ADV_AB_HI],
    [LAF_AB_TR, LAF_AB_LO, LAF_AB_HI, LAF_AB_VA, LAF_AB_VA_LO, LAF_AB_VA_HI, LAF_AB_TE, LAF_AB_LO, LAF_AB_HI]
  ]
];
const Y_TICKS = [ACC_TICKS, DP_TICKS, ABCC_TICKS];

// ---------------- layout & style ----------------
const Y_RANGE = [
  [[57.7,86],[58.7,85.4],[28,84.5],[57.7,85.3],[31.6,87.6],[57.7,85.6]],
  [[-0.5,11.1],[-0.7,12.3],[-0.9,17.6],[-0.3,6.2],[-1.7,35],[-0.9,19.3]],
  [[-0.4,9.6],[-0.3,7.0],[-0.14,3.1],[-0.22,5.05],[-1.5,32.8],[-0.4,9.2]]
];
const RGB = ['31,119,180', '255,127,14', '44,160,44'];
const COL_X = [37, 216, 389, 567, 742, 917];
const ROW_Y = [53, 172, 290];
const PW = 136, PH = 101, PAD_R = 14;
const PAD_TOP = [26, 12, 12];
const XH = [18, 18, 30];
const TICK_SIZE = 14, YLAB_SIZE = 13.5;
const SERIF = '"Liberation Serif", "Times New Roman", serif';
const MONO = '"Liberation Mono", "DejaVu Sans Mono", monospace';
const GRID = { color: '#c4c4c4', lineWidth: 1, drawTicks: true, tickLength: 2, tickColor: '#333', tickWidth: 1 };

const fig = document.getElementById('fig');

// legend (HTML text)
const LEG_SW = [5, 113, 209], LEG_TX = [23, 131, 228];
const legend = document.getElementById('legend');
SERIES.forEach((name, s) => {
  const sw = document.createElement('div');
  sw.className = 'sw'; sw.style.left = LEG_SW[s] + 'px'; sw.style.background = 'rgb(' + RGB[s] + ')';
  const tx = document.createElement('div');
  tx.className = 'lt'; tx.style.left = LEG_TX[s] + 'px'; tx.textContent = name;
  legend.appendChild(sw); legend.appendChild(tx);
});

const framePlugin = {
  id: 'frame',
  afterDraw(chart) {
    const a = chart.chartArea, ctx = chart.ctx;
    ctx.save();
    ctx.strokeStyle = '#1f1f1f';
    ctx.lineWidth = 1.3;
    ctx.strokeRect(a.left, a.top, a.right - a.left, a.bottom - a.top);
    ctx.restore();
  }
};

const mctx = document.createElement('canvas').getContext('2d');
mctx.font = TICK_SIZE + 'px ' + SERIF;

function pts(arr) { return STEPS.map((x, i) => ({ x: x, y: arr[i] })); }

for (let r = 0; r < 3; r++) {
  for (let c = 0; c < 6; c++) {
    const labels = Y_TICKS[r][c];
    const widest = Math.max(...labels.map(s => mctx.measureText(s).width));
    const YW = Math.ceil(4 + widest + YLAB_SIZE);
    const W = YW + PW + PAD_R, H = PAD_TOP[r] + PH + XH[r];
    const cv = document.createElement('canvas');
    cv.width = W; cv.height = H;
    cv.style.width = W + 'px'; cv.style.height = H + 'px';
    cv.style.left = (COL_X[c] - YW) + 'px';
    cv.style.top = (ROW_Y[r] - PAD_TOP[r]) + 'px';
    fig.appendChild(cv);

    const arrs = PANELS[r][c];
    const datasets = [];
    for (let s = 0; s < 3; s++) {
      datasets.push({ label: SERIES[s] + ' min', data: pts(arrs[3 * s + 1]), borderColor: 'rgba(' + RGB[s] + ',0.5)', borderWidth: 1, fill: false, order: 10 });
      datasets.push({ label: SERIES[s] + ' max', data: pts(arrs[3 * s + 2]), borderColor: 'rgba(' + RGB[s] + ',0.5)', borderWidth: 1, fill: '-1', backgroundColor: 'rgba(' + RGB[s] + ',0.1)', order: 10 });
    }
    for (let s = 0; s < 3; s++) {
      datasets.push({ label: SERIES[s], data: pts(arrs[3 * s]), borderColor: 'rgb(' + RGB[s] + ')', borderWidth: 3.5, fill: false, order: 3 - s });
    }

    new Chart(cv, {
      type: 'line',
      data: { datasets },
      options: {
        responsive: false, animation: false, events: [],
        devicePixelRatio: 1,
        layout: { padding: { top: r === 0 ? 0 : PAD_TOP[r], right: PAD_R, bottom: 0, left: 0 } },
        elements: { point: { radius: 0 }, line: { tension: 0, borderJoinStyle: 'round', borderCapStyle: 'round' } },
        plugins: {
          legend: { display: false },
          tooltip: { enabled: false },
          filler: { drawTime: 'beforeDatasetsDraw', propagate: false },
          title: {
            display: r === 0, text: METHODS[c], fullSize: false, color: '#000',
            font: { family: MONO, size: 15, weight: 'bold', lineHeight: 1.2 },
            padding: { top: 8, bottom: 0 }
          }
        },
        scales: {
          x: {
            type: 'linear', min: -5, max: 155,
            afterBuildTicks: s => { s.ticks = X_TICKS.map(v => ({ value: v })); },
            afterFit: s => { s.height = XH[r]; },
            ticks: { font: { family: SERIF, size: TICK_SIZE }, color: '#262626', padding: 0, autoSkip: false, maxRotation: 0, callback: v => String(v) },
            grid: GRID,
            border: { display: false },
            title: { display: r === 2, text: X_LABEL, color: '#262626', font: { family: SERIF, size: 14 }, padding: 0 }
          },
          y: {
            type: 'linear', min: Y_RANGE[r][c][0], max: Y_RANGE[r][c][1],
            afterBuildTicks: s => { s.ticks = labels.map(l => ({ value: parseFloat(l) })); },
            afterFit: s => { s.width = YW; },
            ticks: { font: { family: SERIF, size: TICK_SIZE }, color: '#262626', padding: 2, autoSkip: false, callback: v => { const f = labels.find(l => parseFloat(l) === v); return f === undefined ? '' : f; } },
            grid: GRID,
            border: { display: false },
            title: { display: true, text: METRICS[r], color: '#000', font: { family: MONO, size: YLAB_SIZE, lineHeight: 1 }, padding: 0 }
          }
        }
      },
      plugins: [framePlugin]
    });
  }
}
</script></body></html>
